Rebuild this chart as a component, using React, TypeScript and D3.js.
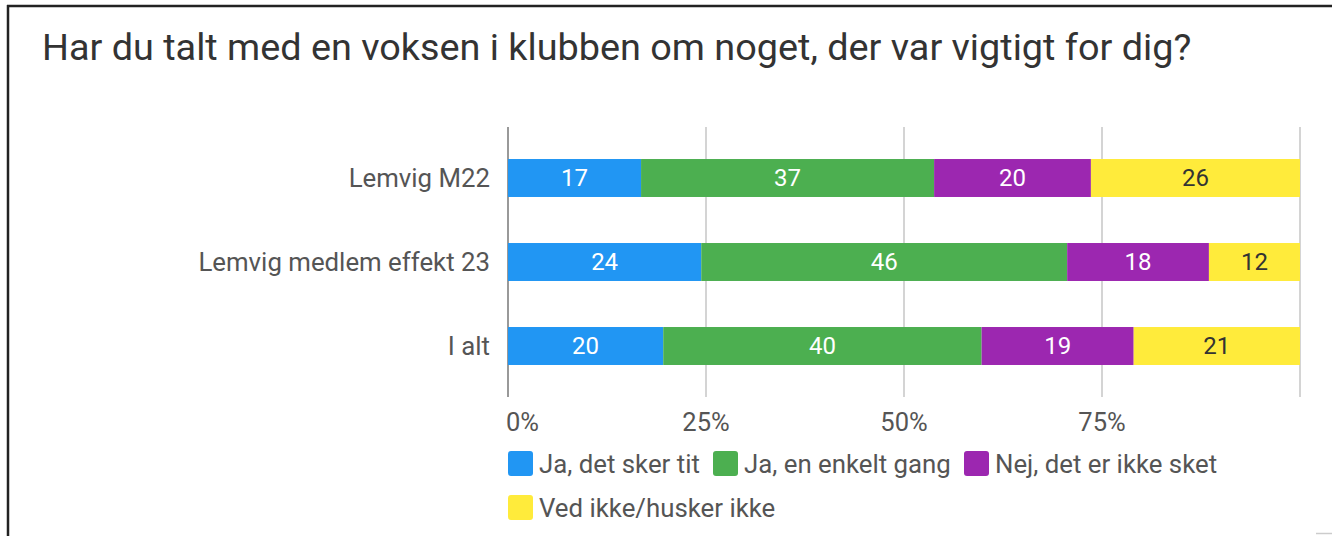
import React from "react";
import * as d3 from "d3";

const TITLE = "Har du talt med en voksen i klubben om noget, der var vigtigt for dig?";
const categories = ["Lemvig M22", "Lemvig medlem effekt 23", "I alt"];
const seriesNames = ["Ja, det sker tit", "Ja, en enkelt gang", "Nej, det er ikke sket", "Ved ikke/husker ikke"];
const seriesColors = ["#2196F3", "#4CAF50", "#9C27B0", "#FFEB3B"];
const labelColors = ["#ffffff", "#ffffff", "#ffffff", "#333333"];
// percentage shares (bar widths), with their printed labels
const jaTit = [16.8, 24.4, 19.6];
const jaEnkelt = [37.0, 46.2, 40.2];
const nej = [19.8, 17.9, 19.2];
const vedIkke = [26.4, 11.5, 21.0];
const jaTitLabels = [17, 24, 20];
const jaEnkeltLabels = [37, 46, 40];
const nejLabels = [20, 18, 19];
const vedIkkeLabels = [26, 12, 21];
const tickValues = [0, 25, 50, 75, 100];
const tickLabels = ["0%", "25%", "50%", "75%", ""];

const W = 1332;
const H = 536;
const FONT = "Roboto, 'Noto Sans', sans-serif";

export default function App() {
  const x = d3.scaleLinear().domain([0, 100]).range([508, 1300]);
  const y = d3.scaleBand<string>().domain(categories).range([136, 388]).paddingInner(0.548).paddingOuter(0.274);
  const values = [jaTit, jaEnkelt, nej, vedIkke];
  const labels = [jaTitLabels, jaEnkeltLabels, nejLabels, vedIkkeLabels];
  const rows = categories.map((c, i) => {
    const o: any = { cat: c };
    seriesNames.forEach((s, j) => (o[s] = values[j][i]));
    return o;
  });
  const stacked = d3.stack<any>().keys(seriesNames)(rows);

  const legendRows = [
    [
      { i: 0, x: 508 },
      { i: 1, x: 713 },
      { i: 2, x: 964 },
    ],
    [{ i: 3, x: 508 }],
  ];
  const legendY = [451, 495];

  return (
    <svg width={W} height={H} style={{ position: "absolute", left: 0, top: 0, background: "#fff" }} fontFamily={FONT}>
      <rect x={0} y={0} width={W} height={H} fill="#fff" />
      {/* frame */}
      <line x1={7} x2={W} y1={6} y2={6} stroke="#222" strokeWidth={2.5} />
      <line x1={8} x2={8} y1={5} y2={H} stroke="#222" strokeWidth={2.5} />
      <line x1={1316} x2={W} y1={533.5} y2={533.5} stroke="#ccc" strokeWidth={1.5} />
      <text x={42} y={60} fontSize={37.8} fill="#333">{TITLE}</text>

      {/* gridlines */}
      {tickValues.map((t) => (
        <line key={t} x1={x(t)} x2={x(t)} y1={127} y2={397} stroke={t === 0 ? "#999" : "#d4d4d4"} strokeWidth={2} />
      ))}
      {tickValues.map((t, i) => (
        <text
          key={"tl" + t}
          x={t === 0 ? 506 : x(t)}
          y={431}
          fontSize={25.5}
          fill="#555"
          textAnchor={t === 0 ? "start" : "middle"}
        >
          {tickLabels[i]}
        </text>
      ))}

      {/* category labels */}
      {categories.map((c) => (
        <text key={c} x={490} y={(y(c) as number) + y.bandwidth() / 2} dy="0.35em" fontSize={25.8} fill="#555" textAnchor="end">
          {c}
        </text>
      ))}

      {/* bars */}
      {stacked.map((layer, j) => (
        <g key={layer.key}>
          {layer.map((d, i) => {
            const x0 = x(d[0]);
            const x1 = x(d[1]);
            const yy = y(categories[i]) as number;
            return (
              <g key={i}>
                <rect x={x0} y={yy} width={x1 - x0} height={y.bandwidth()} fill={seriesColors[j]} />
                <text
                  x={(x0 + x1) / 2}
                  y={yy + y.bandwidth() / 2}
                  dy="0.35em"
                  textAnchor="middle"
                  fontSize={24}
                  fill={labelColors[j]}
                >
                  {labels[j][i]}
                </text>
              </g>
            );
          })}
        </g>
      ))}

      {/* legend */}
      {legendRows.map((row, r) =>
        row.map((it) => (
          <g key={it.i}>
            <rect x={it.x} y={legendY[r]} width={25} height={25} rx={3} fill={seriesColors[it.i]} />
            <text x={it.x + 31} y={legendY[r] + 12.5} dy="0.35em" fontSize={25.8} fill="#555">
              {seriesNames[it.i]}
            </text>
          </g>
        ))
      )}
    </svg>
  );
}
